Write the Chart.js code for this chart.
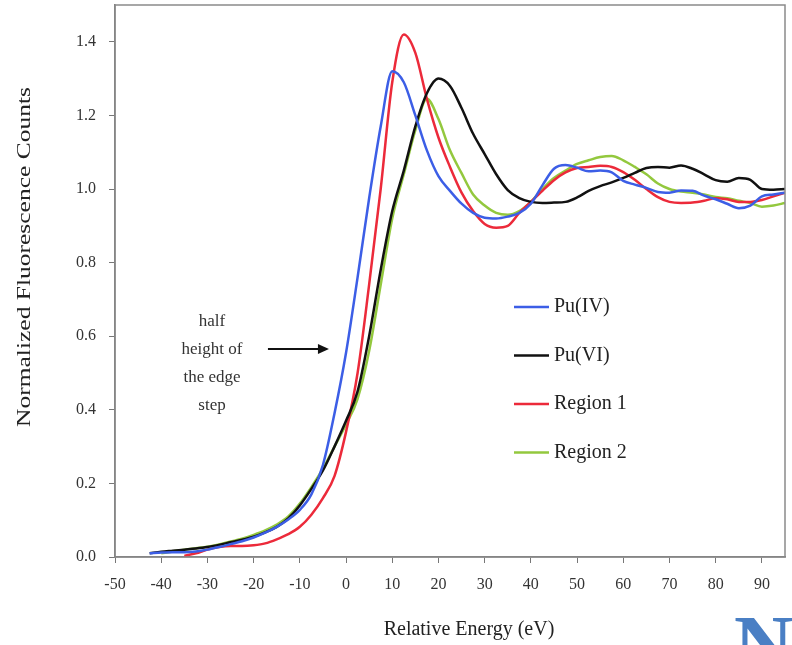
<!DOCTYPE html>
<html>
<head>
<meta charset="utf-8">
<script src="https://cdn.jsdelivr.net/npm/chart.js@4.4.0/dist/chart.umd.min.js"></script>
<style>
  html, body { margin: 0; padding: 0; background: #fff; }
  #wrap { width: 792px; height: 645px; }
</style>
</head>
<body>
<div id="wrap"><canvas id="chart" width="792" height="645"></canvas></div>
<script>
// Energie relative (eV), commune aux 4 courbes
const energies = [-45, -42.5, -40, -37.5, -35, -32.5, -30, -27.5, -25, -22.5,
  -20, -17.5, -15, -12.5, -10, -7.5, -5, -2.5, 0, 2.5,
  5, 7.5, 10, 12.5, 15, 17.5, 20, 22.5, 25, 27.5,
  30, 32.5, 35, 37.5, 40, 42.5, 45, 47.5, 50, 52.5,
  55, 57.5, 60, 62.5, 65, 67.5, 70, 72.5, 75, 77.5,
  80, 82.5, 85, 87.5, 90, 92.5, 95];

const puIV = [null, 0.010, 0.012, 0.013, 0.013, 0.015, 0.020, 0.027, 0.035, 0.043,
  0.053, 0.066, 0.082, 0.102, 0.128, 0.170, 0.250, 0.390, 0.555, 0.760,
  0.975, 1.170, 1.320, 1.290, 1.200, 1.105, 1.035, 0.995, 0.960, 0.935,
  0.922, 0.920, 0.925, 0.935, 0.960, 1.010, 1.055, 1.065, 1.058, 1.048,
  1.050, 1.045, 1.022, 1.012, 1.003, 0.992, 0.990, 0.996, 0.995, 0.982,
  0.972, 0.960, 0.948, 0.955, 0.980, 0.985, 0.990];

const puVI = [null, 0.010, 0.014, 0.017, 0.020, 0.023, 0.027, 0.033, 0.040, 0.047,
  0.055, 0.067, 0.082, 0.105, 0.140, 0.185, 0.235, 0.300, 0.370, 0.450,
  0.600, 0.780, 0.940, 1.050, 1.170, 1.260, 1.300, 1.280, 1.220, 1.150,
  1.095, 1.040, 0.997, 0.975, 0.965, 0.962, 0.963, 0.965, 0.977, 0.995,
  1.008, 1.018, 1.030, 1.044, 1.057, 1.060, 1.058, 1.064, 1.055, 1.040,
  1.024, 1.020, 1.030, 1.025, 1.000, 0.998, 1.000];

const region1 = [null, null, null, null, 0.003, 0.010, 0.020, 0.027, 0.030, 0.030,
  0.032, 0.037, 0.048, 0.062, 0.082, 0.115, 0.160, 0.220, 0.340, 0.500,
  0.740, 1.000, 1.290, 1.420, 1.370, 1.245, 1.140, 1.060, 0.990, 0.940,
  0.905, 0.895, 0.900, 0.935, 0.965, 0.995, 1.024, 1.045, 1.057, 1.060,
  1.063, 1.060, 1.046, 1.025, 1.000, 0.978, 0.965, 0.962, 0.963, 0.968,
  0.975, 0.972, 0.965, 0.965, 0.970, 0.980, 0.990];

const region2 = [null, null, 0.010, 0.015, 0.020, 0.024, 0.028, 0.034, 0.042, 0.050,
  0.060, 0.072, 0.088, 0.110, 0.145, 0.190, 0.240, 0.300, 0.360, 0.430,
  0.560, 0.740, 0.920, 1.040, 1.160, 1.245, 1.190, 1.105, 1.043, 0.985,
  0.955, 0.935, 0.930, 0.940, 0.965, 1.000, 1.030, 1.050, 1.068, 1.078,
  1.087, 1.090, 1.078, 1.060, 1.040, 1.015, 1.000, 0.993, 0.990, 0.985,
  0.978, 0.975, 0.968, 0.962, 0.952, 0.955, 0.962];

const seriesNames = ['Pu(IV)', 'Pu(VI)', 'Region 1', 'Region 2'];
const seriesColors = ['#3c5ee6', '#111111', '#ec2a3a', '#93c83e'];
const xTicks = [-50, -40, -30, -20, -10, 0, 10, 20, 30, 40, 50, 60, 70, 80, 90];
const yTicks = [0, 0.2, 0.4, 0.6, 0.8, 1.0, 1.2, 1.4];

const xTitle = 'Relative Energy (eV)';
const yTitle = 'Normalized Fluorescence Counts';

// Annotation "half height of the edge step"
const noteLines = ['half', 'height of', 'the edge', 'step'];
const arrowFrom = [-16.9, 0.565];
const arrowTo = [-3.7, 0.565];

const serif = "'Liberation Serif', 'Times New Roman', serif";

function toPoints(values) {
  return energies.map((e, i) => ({ x: e, y: values[i] }));
}

const allSeries = [puIV, puVI, region1, region2];

// Cadre, titres, légende, annotation et logo
const decorPlugin = {
  id: 'decor',
  afterDraw(chart) {
    const ctx = chart.ctx;
    const a = chart.chartArea;
    const xs = chart.scales.x;
    const ys = chart.scales.y;
    ctx.save();

    // cadre du graphique
    ctx.strokeStyle = '#8a8a8a';
    ctx.lineWidth = 1.5;
    ctx.strokeRect(a.left, a.top, a.right - a.left, a.bottom - a.top);

    // titre de l'axe X
    ctx.fillStyle = '#222';
    ctx.font = '20px ' + serif;
    ctx.textAlign = 'center';
    ctx.textBaseline = 'middle';
    ctx.fillText(xTitle, 469, 630);

    // titre de l'axe Y (police étroite, étirée en longueur)
    ctx.save();
    ctx.translate(25, 257);
    ctx.rotate(-Math.PI / 2);
    ctx.font = '19px ' + serif;
    const w = ctx.measureText(yTitle).width;
    ctx.scale(340 / w, 1);
    ctx.fillText(yTitle, 0, 0);
    ctx.restore();

    // légende
    ctx.font = '20px ' + serif;
    ctx.textBaseline = 'middle';
    ctx.textAlign = 'left';
    seriesNames.forEach((name, i) => {
      const y = 307 + i * 48.5;
      ctx.strokeStyle = seriesColors[i];
      ctx.lineWidth = 2.5;
      ctx.beginPath();
      ctx.moveTo(514, y);
      ctx.lineTo(549, y);
      ctx.stroke();
      ctx.fillStyle = '#222';
      ctx.fillText(name, 554, y);
    });

    // annotation
    ctx.font = '17px ' + serif;
    ctx.fillStyle = '#333';
    ctx.textAlign = 'center';
    noteLines.forEach((t, i) => {
      ctx.fillText(t, 212, 322 + i * 28);
    });
    const x1 = xs.getPixelForValue(arrowFrom[0]);
    const x2 = xs.getPixelForValue(arrowTo[0]);
    const yA = ys.getPixelForValue(arrowTo[1]);
    ctx.strokeStyle = '#111';
    ctx.fillStyle = '#111';
    ctx.lineWidth = 2;
    ctx.beginPath();
    ctx.moveTo(x1, yA);
    ctx.lineTo(x2 - 8, yA);
    ctx.stroke();
    ctx.beginPath();
    ctx.moveTo(x2, yA);
    ctx.lineTo(x2 - 11, yA - 5);
    ctx.lineTo(x2 - 11, yA + 5);
    ctx.closePath();
    ctx.fill();

    // logo coupé en bas à droite
    ctx.font = 'bold 82px ' + serif;
    ctx.fillStyle = '#4a7fc4';
    ctx.textAlign = 'left';
    ctx.textBaseline = 'alphabetic';
    ctx.fillText('N', 734, 672);

    ctx.restore();
  }
};

new Chart(document.getElementById('chart'), {
  type: 'line',
  data: {
    datasets: allSeries.map((vals, i) => ({
      label: seriesNames[i],
      data: toPoints(vals),
      borderColor: seriesColors[i],
      backgroundColor: seriesColors[i],
      borderWidth: 2.5,
      pointRadius: 0,
      cubicInterpolationMode: 'monotone',
      fill: false
    }))
  },
  options: {
    responsive: false,
    animation: false,
    layout: { padding: { left: 0, right: 7, top: 5, bottom: 0 } },
    plugins: {
      legend: { display: false },
      tooltip: { enabled: false }
    },
    scales: {
      x: {
        type: 'linear',
        min: -50,
        max: 95,
        afterBuildTicks: (s) => { s.ticks = xTicks.map(v => ({ value: v })); },
        afterFit: (s) => { s.height = 88; s.paddingLeft = 0; s.paddingRight = 0; },
        grid: { display: true, drawOnChartArea: false, drawTicks: true, tickLength: 6, color: '#777' },
        border: { display: true, color: '#777', width: 1.5 },
        ticks: {
          padding: 12,
          maxRotation: 0,
          color: '#333',
          font: { family: serif, size: 16 }
        }
      },
      y: {
        min: 0,
        max: 1.5,
        afterBuildTicks: (s) => { s.ticks = yTicks.map(v => ({ value: v })); },
        afterFit: (s) => { s.width = 115; s.paddingTop = 0; s.paddingBottom = 0; },
        grid: { display: true, drawOnChartArea: false, drawTicks: true, tickLength: 6, color: '#777' },
        border: { display: true, color: '#777', width: 1.5 },
        ticks: {
          padding: 13,
          color: '#333',
          font: { family: serif, size: 16 },
          callback: (v) => Number(v).toFixed(1)
        }
      }
    }
  },
  plugins: [decorPlugin]
});
</script>
</body>
</html>
